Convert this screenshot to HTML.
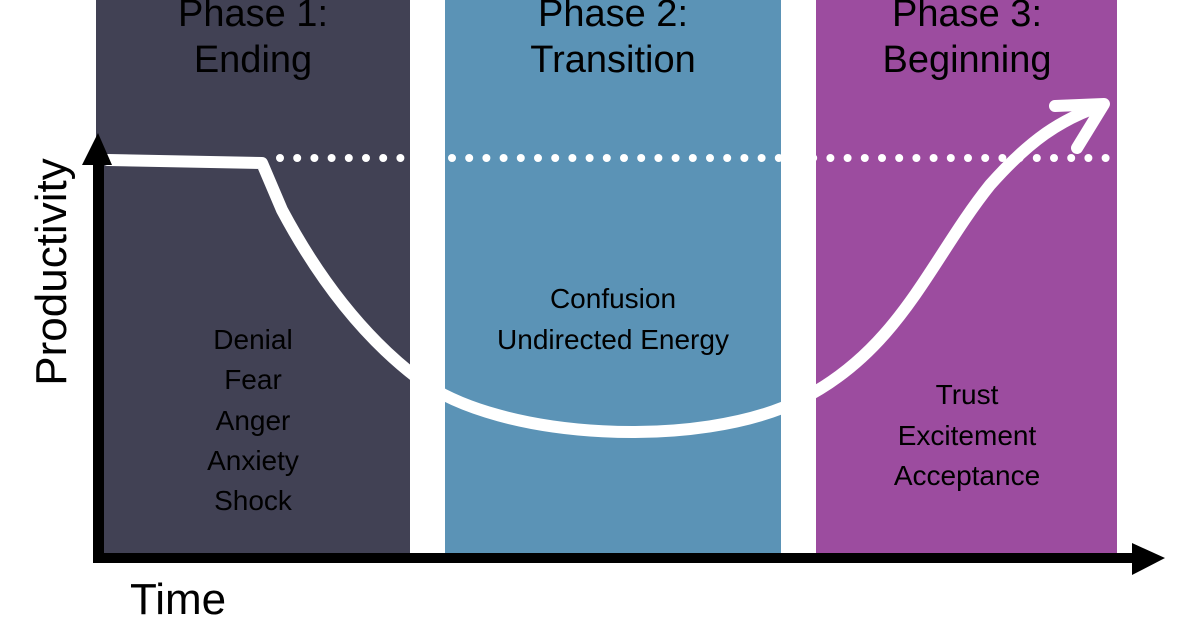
<!DOCTYPE html>
<html><head><style>
body{margin:0;width:1200px;height:630px;overflow:hidden;background:#fff;font-family:"Liberation Sans",sans-serif}
</style></head><body>
<svg width="1200" height="630" viewBox="0 0 1200 630" xmlns="http://www.w3.org/2000/svg" font-family="Liberation Sans, sans-serif">
<rect x="96" y="0" width="314" height="555" fill="#414154"/>
<rect x="445" y="0" width="336" height="555" fill="#5b93b6"/>
<rect x="816" y="0" width="301" height="555" fill="#9c4c9f"/>
<g fill="#000" font-size="38" text-anchor="middle">
<text x="253" y="26">Phase 1:</text><text x="253" y="72">Ending</text>
<text x="613" y="26">Phase 2:</text><text x="613" y="72">Transition</text>
<text x="967" y="26">Phase 3:</text><text x="967" y="72">Beginning</text>
</g>
<line x1="280" y1="158" x2="1117" y2="158" stroke="#fff" stroke-width="8" stroke-linecap="round" stroke-dasharray="0 17.2"/>
<path d="M108 160 L262 163 L282 210 C330 300 380 350 420 380 C500 440 700 450 800 400 C900 350 930 260 990 185 C1030 140 1060 120 1100 106" fill="none" stroke="#fff" stroke-width="12" stroke-linecap="round" stroke-linejoin="round"/>
<path d="M1055 106 L1104 104 L1077 148" fill="none" stroke="#fff" stroke-width="12" stroke-linecap="round" stroke-linejoin="round"/>
<rect x="93" y="160" width="11" height="403" fill="#000"/>
<polygon points="82,165 98,133 112,165" fill="#000"/>
<rect x="93" y="553" width="1047" height="10" fill="#000"/>
<polygon points="1132,543 1165,558 1132,575" fill="#000"/>
<g fill="#000" font-size="28" text-anchor="middle">
<text x="253" y="349">Denial</text><text x="253" y="389">Fear</text><text x="253" y="430">Anger</text><text x="253" y="470">Anxiety</text><text x="253" y="510">Shock</text>
<text x="613" y="308">Confusion</text><text x="613" y="349">Undirected Energy</text>
<text x="967" y="404">Trust</text><text x="967" y="445">Excitement</text><text x="967" y="485">Acceptance</text>
</g>
<text x="130" y="614" font-size="44" fill="#000">Time</text>
<text transform="translate(66,272) rotate(-90)" font-size="44" text-anchor="middle" fill="#000">Productivity</text>
</svg>
</body></html>
